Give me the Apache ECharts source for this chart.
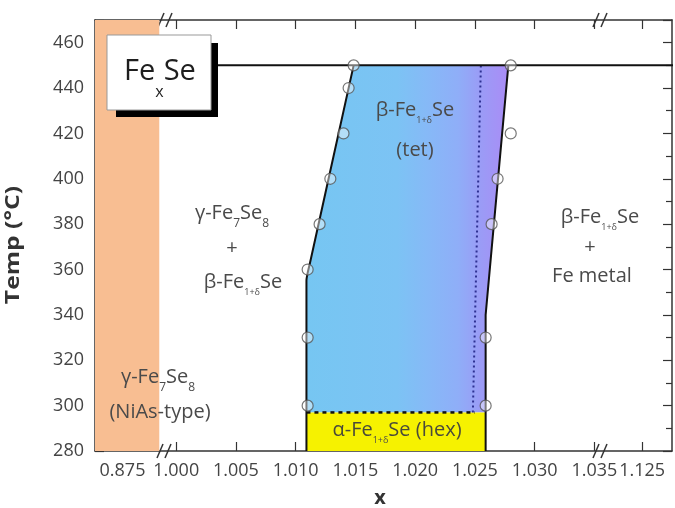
<!DOCTYPE html>
<html><head><meta charset="utf-8">
<script src="https://cdn.jsdelivr.net/npm/echarts@6/dist/echarts.min.js"></script>
<style>html,body{margin:0;padding:0;background:#fff}#c{width:675px;height:508px}</style>
</head><body><div id="c"></div>
<script>
// ---------- data ----------
const xTickLabels = ['0.875','1.000','1.005','1.010','1.015','1.020','1.025','1.030','1.035','1.125'];
const xTickValues = [0.875, 1.000, 1.005, 1.010, 1.015, 1.020, 1.025, 1.030, 1.035, 1.125];
const yMin = 280, yMax = 470, yStep = 20;

// phase boundary of beta-Fe1+dSe (tet)
const leftBoundaryX  = [1.0109, 1.0109, 1.0112, 1.01485];
const leftBoundaryT  = [280, 355, 363, 450];
const rightBoundaryX = [1.0259, 1.0259, 1.0278];
const rightBoundaryT = [280, 340, 450];

// measured points (open circles)
const leftPointsX  = [1.01485, 1.01443, 1.0140, 1.0129, 1.0120, 1.0110, 1.0110, 1.0110];
const leftPointsT  = [450, 440, 420, 400, 380, 360, 330, 300];
const rightPointsX = [1.0280, 1.0280, 1.0269, 1.0264, 1.0259, 1.0259];
const rightPointsT = [450, 420, 400, 380, 330, 300];

const hexTopT = 297;             // alpha / beta transition
const hexDashEndX = 1.0250;
const transitionT = 450;         // upper horizontal line
const transitionX = [1.0030, 1.1400];
const dottedX = [1.02483, 1.0255];
const dottedT = [297, 450];
const gammaEdgeX = 0.87808;      // right edge of gamma-Fe7Se8 band

// ---------- broken axis mapping ----------
function toAxis(x) {
  if (x < 0.95) return -0.9 + (x - 0.875) / 0.005;
  if (x > 1.08) return 7.8 + (x - 1.125) / 0.005;
  return (x - 1) / 0.005;
}
const X_MIN = -1.36, X_MAX = 8.3;
const tickPos = xTickValues.map(toAxis);
function tickLabel(v) {
  for (let i = 0; i < tickPos.length; i++) if (Math.abs(tickPos[i] - v) < 1e-6) return xTickLabels[i];
  return '';
}
const pts = (xs, ts) => xs.map((x, i) => [toAxis(x), ts[i]]);

const bluePoly = [[leftBoundaryX[0], hexTopT]]
  .concat(leftBoundaryX.slice(1).map((x, i) => [x, leftBoundaryT[i + 1]]))
  .concat(rightBoundaryX.slice(1).map((x, i) => [x, rightBoundaryT[i + 1]]).reverse())
  .concat([[rightBoundaryX[0], hexTopT]]);
const yellowPoly = [[leftBoundaryX[0], yMin], [leftBoundaryX[0], hexTopT], [rightBoundaryX[0], hexTopT], [rightBoundaryX[0], yMin]];

const FONT = 'Open Sans';
const axisCol = '#333';

const chart = echarts.init(document.getElementById('c'), null, {renderer: 'canvas'});

const blueGrad = new echarts.graphic.LinearGradient(0, 0, 1, 0, [
  {offset: 0, color: '#76C6F2'}, {offset: 0.45, color: '#7CC3F4'},
  {offset: 0.6, color: '#86B9F7'}, {offset: 0.75, color: '#8FAEF8'},
  {offset: 0.86, color: '#9A9CF6'}, {offset: 1, color: '#AA8CF6'}]);

function polySeries(poly, fill, z) {
  return {
    type: 'custom', silent: true, z: z, data: [[0, 300]],
    renderItem: (params, api) => ({
      type: 'polygon',
      shape: {points: poly.map(p => api.coord([toAxis(p[0]), p[1]]))},
      style: {fill: fill}
    })
  };
}

const xAxisBase = {
  type: 'value', min: X_MIN, max: X_MAX,
  axisLine: {show: true, onZero: false, lineStyle: {color: axisCol, width: 1.5}},
  axisTick: {show: true, inside: true, length: 9, customValues: tickPos, lineStyle: {color: axisCol, width: 1.2}},
  splitLine: {show: false}
};
const yAxisBase = {
  type: 'value', min: yMin, max: yMax, interval: yStep,
  axisLine: {show: true, onZero: false, lineStyle: {color: axisCol, width: 1.5}},
  axisTick: {show: true, inside: true, length: 9, lineStyle: {color: axisCol, width: 1.2}},
  minorTick: {show: true, splitNumber: 2, length: 6, lineStyle: {color: axisCol, width: 1.2}},
  splitLine: {show: false}
};

const subA = {fontSize: 9, padding: [20, 0, 0, 0], lineHeight: 10, fill: '#4a4a4a', fontFamily: FONT};
const subB = {fontSize: 12, padding: [22, 0, 0, 0], lineHeight: 13, fill: '#4a4a4a', fontFamily: FONT};
function label(text, x, y, extra) {
  return Object.assign({
    type: 'text', x: x, y: y, z: 50,
    style: Object.assign({
      text: text, fontSize: 20, fontFamily: FONT, fill: '#4a4a4a',
      textAlign: 'center', textVerticalAlign: 'middle', align: 'center', verticalAlign: 'middle',
      rich: {s: subA, t: subB}
    }, extra || {})
  });
}
function breakMark(bx, by) {
  return {
    type: 'group', z: 60, children: [
      {type: 'rect', shape: {x: bx - 5, y: by - 2.5, width: 8, height: 5}, style: {fill: '#fff'}},
      {type: 'line', shape: {x1: bx - 9, y1: by + 7, x2: bx - 3, y2: by - 7}, style: {stroke: axisCol, lineWidth: 1.5}},
      {type: 'line', shape: {x1: bx - 1, y1: by + 7, x2: bx + 5, y2: by - 7}, style: {stroke: axisCol, lineWidth: 1.5}}
    ]
  };
}

const option = {
  backgroundColor: '#fff',
  animation: false,
  grid: {left: 95, right: 3, top: 20, bottom: 57, containLabel: false},
  xAxis: [
    Object.assign({}, xAxisBase, {position: 'bottom',
      axisLabel: {show: true, customValues: tickPos, formatter: tickLabel, fontSize: 18, fontFamily: FONT, color: '#444', margin: 11}}),
    Object.assign({}, xAxisBase, {position: 'top', axisLabel: {show: false}})
  ],
  yAxis: [
    Object.assign({}, yAxisBase, {position: 'left',
      axisLabel: {show: true, fontSize: 18, fontFamily: FONT, color: '#444', margin: 11,
        formatter: v => (v % 20 === 0 ? String(v) : '')}}),
    Object.assign({}, yAxisBase, {position: 'right', axisLabel: {show: false}})
  ],
  series: [
    {
      type: 'line', data: [], silent: true,
      markArea: {silent: true, itemStyle: {color: '#F8BE92'},
        data: [[{xAxis: X_MIN}, {xAxis: toAxis(gammaEdgeX)}]]}
    },
    polySeries(bluePoly, blueGrad, 2),
    polySeries(yellowPoly, '#F6F200', 3),
    {type: 'line', z: 5, silent: true, symbol: 'none', data: pts(dottedX, dottedT),
      lineStyle: {color: '#2E3192', width: 2, type: [2, 3]}},
    {type: 'line', z: 5, silent: true, symbol: 'none', data: pts([leftBoundaryX[0], hexDashEndX], [hexTopT, hexTopT]),
      lineStyle: {color: '#111', width: 2.5, type: [4, 4]}},
    {type: 'line', z: 6, silent: true, symbol: 'none', data: pts(transitionX, [transitionT, transitionT]),
      lineStyle: {color: '#111', width: 2}},
    {type: 'line', z: 6, silent: true, symbol: 'none', smooth: 0.25, data: pts(leftBoundaryX, leftBoundaryT),
      lineStyle: {color: '#111', width: 2}},
    {type: 'line', z: 6, silent: true, symbol: 'none', data: pts(rightBoundaryX, rightBoundaryT),
      lineStyle: {color: '#111', width: 2}},
    {type: 'scatter', z: 8, silent: true, symbol: 'circle', symbolSize: 11,
      data: pts(leftPointsX, leftPointsT).concat(pts(rightPointsX, rightPointsT)),
      itemStyle: {color: 'rgba(255,255,255,0.55)', borderColor: '#555', borderWidth: 1.2}}
  ],
  graphic: [
    // Fe_xSe box
    {type: 'rect', z: 40, shape: {x: 116, y: 43, width: 102, height: 74}, style: {fill: '#000'}},
    {type: 'rect', z: 41, shape: {x: 107, y: 35, width: 104, height: 75}, style: {fill: '#fff', stroke: '#999', lineWidth: 1}},
    {type: 'text', z: 42, x: 160, y: 72, style: {
      text: 'Fe{x|x}Se', fontSize: 29, fontFamily: FONT, fill: '#1e1e1e',
      textAlign: 'center', textVerticalAlign: 'middle', align: 'center', verticalAlign: 'middle',
      rich: {x: {fontSize: 16, padding: [40, 0, 0, 0], lineHeight: 16, fill: '#1e1e1e', fontFamily: FONT}}}},
    label('β-Fe{s|1+δ}Se', 415, 110),
    label('(tet)', 415, 150),
    label('γ-Fe{t|7}Se{t|8}', 232, 213),
    label('+', 232, 248),
    label('β-Fe{s|1+δ}Se', 243, 282),
    label('β-Fe{s|1+δ}Se', 600, 217),
    label('+', 590, 247),
    label('Fe metal', 592, 276),
    label('γ-Fe{t|7}Se{t|8}', 158, 377),
    label('(NiAs-type)', 160, 412),
    label('α-Fe{s|1+δ}Se (hex)', 397, 430, {fill: '#4a4a3a'}),
    // axis titles
    {type: 'text', z: 50, x: 14, y: 245, rotation: Math.PI / 2, scaleX: 1.3, style: {
      text: 'Temp (°C)', fontSize: 19, fontWeight: 'bold', fontFamily: FONT, fill: '#333',
      textAlign: 'center', textVerticalAlign: 'middle', align: 'center', verticalAlign: 'middle'}},
    {type: 'text', z: 50, x: 380, y: 498, style: {
      text: 'x', fontSize: 20, fontWeight: 'bold', fontFamily: FONT, fill: '#333',
      textAlign: 'center', textVerticalAlign: 'middle', align: 'center', verticalAlign: 'middle'}},
    breakMark(167, 20), breakMark(166, 451), breakMark(602, 20), breakMark(602, 451)
  ]
};
chart.setOption(option);
</script>
</body></html>
